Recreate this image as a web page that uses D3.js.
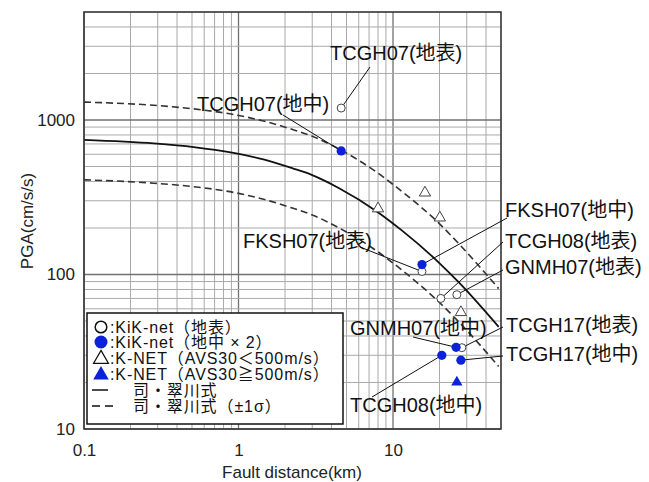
<!DOCTYPE html>
<html><head><meta charset="utf-8">
<script src="https://cdn.jsdelivr.net/npm/d3@7"></script>
<style>
html,body{margin:0;padding:0;background:#fff;}
text{font-family:"Liberation Sans",Arial,"Noto Sans CJK JP",sans-serif;}
</style></head>
<body><svg id="c" width="649" height="482"></svg>
<script>
// ---------- data ----------
const xTickValues = [0.1, 1, 10];
const xTickLabels = ["0.1", "1", "10"];
const yTickValues = [10, 100, 1000];
const yTickLabels = ["10", "100", "1000"];

// Si-Midorikawa attenuation curves
const curveDist = [0.1, 0.283, 0.513, 0.928, 1.45, 2.26, 3.0, 4.48, 7.77, 11.4, 19.8, 26.7, 48.3];
const meanPGA   = [743, 705, 668, 612, 556, 485, 440, 362, 258, 193, 119.5, 88.8, 45.8];
const upperPGA  = [1306, 1245, 1180, 1085, 985, 865, 785, 648, 462, 345, 215, 158, 81];
const lowerPGA  = [410, 390, 370, 340, 307, 268, 243, 200, 143, 107, 66.4, 49.3, 25.4];

// KiK-net surface (open circles)
const kikSurfName = ["TCGH07(地表)", "FKSH07(地表)", "TCGH08(地表)", "GNMH07(地表)", "TCGH17(地表)"];
const kikSurfDist = [4.62, 15.4, 20.4, 25.9, 27.9];
const kikSurfPGA  = [1195, 104.6, 70, 74, 33.6];
// KiK-net borehole x2 (blue dots)
const kikBoreName = ["TCGH07(地中)", "FKSH07(地中)", "GNMH07(地中)", "TCGH17(地中)", "TCGH08(地中)"];
const kikBoreDist = [4.62, 15.4, 25.6, 27.5, 20.7];
const kikBorePGA  = [631, 116, 33.8, 27.9, 30.0];
// K-NET AVS30<500 (open triangles)
const knetSoftDist = [8.0, 16.1, 20.1, 27.5];
const knetSoftPGA  = [267, 338, 233, 56.9];
// K-NET AVS30>=500 (blue triangles)
const knetHardDist = [25.9];
const knetHardPGA  = [20.1];

const legendLabels = [":KiK-net（地表）", ":KiK-net（地中 × 2）", ":K-NET（AVS30＜500m/s）", ":K-NET（AVS30≧500m/s）", "司・翠川式", "司・翠川式（±1σ）"];

// ---------- layout ----------
const L = 84, R = 501, T = 12, B = 429;
const BLUE = "#0b22d8";
const svg = d3.select("#c");

const x = d3.scaleLog().domain([0.1, 50]).range([L, R]);
const y = d3.scaleLog().domain([10, 5000]).range([B, T]);

// grid
const gx = [], gy = [];
[0.1, 1, 10].forEach(d => { for (let k = 1; k <= 9; k++) { const v = +(d * k).toPrecision(3); if (v <= 50) gx.push(v); } });
[10, 100, 1000].forEach(d => { for (let k = 1; k <= 9; k++) { const v = d * k; if (v <= 5000) gy.push(v); } });
const isDec = v => Math.abs(Math.log10(v) - Math.round(Math.log10(v))) < 1e-6;
const grid = svg.append("g");
grid.selectAll("line.vx").data(gx).join("line")
  .attr("x1", d => x(d)).attr("x2", d => x(d)).attr("y1", T).attr("y2", B)
  .attr("stroke", d => isDec(d) ? "#707070" : "#a9a9a9").attr("stroke-width", d => isDec(d) ? 1.3 : 1);
grid.selectAll("line.hy").data(gy).join("line")
  .attr("y1", d => y(d)).attr("y2", d => y(d)).attr("x1", L).attr("x2", R)
  .attr("stroke", d => isDec(d) ? "#707070" : "#a9a9a9").attr("stroke-width", d => isDec(d) ? 1.3 : 1);

// clip
svg.append("clipPath").attr("id", "clip").append("rect").attr("x", L).attr("y", T).attr("width", R - L).attr("height", B - T);

const line = d3.line().x(d => x(d[0])).y(d => y(d[1])).curve(d3.curveMonotoneX);
const cg = svg.append("g").attr("clip-path", "url(#clip)");
cg.append("path").attr("d", line(d3.zip(curveDist, upperPGA))).attr("fill", "none").attr("stroke", "#333").attr("stroke-width", 1.6).attr("stroke-dasharray", "7,4");
cg.append("path").attr("d", line(d3.zip(curveDist, lowerPGA))).attr("fill", "none").attr("stroke", "#333").attr("stroke-width", 1.6).attr("stroke-dasharray", "7,4");
cg.append("path").attr("d", line(d3.zip(curveDist, meanPGA))).attr("fill", "none").attr("stroke", "#111").attr("stroke-width", 1.8);

// frame
svg.append("rect").attr("x", L).attr("y", T).attr("width", R - L).attr("height", B - T)
  .attr("fill", "none").attr("stroke", "#333").attr("stroke-width", 1.5);

// axes
const yAxis = d3.axisLeft(y).tickValues(yTickValues).tickSize(0).tickPadding(9)
  .tickFormat((d, i) => yTickLabels[i]);
const ya = svg.append("g").attr("transform", `translate(${L},0)`).call(yAxis);
ya.select(".domain").remove();
ya.selectAll("text").attr("font-size", 17).attr("fill", "#222").attr("font-family", "Liberation Sans, Arial, sans-serif");
const xAxis = d3.axisBottom(x).tickValues(xTickValues).tickSize(0).tickPadding(15)
  .tickFormat((d, i) => xTickLabels[i]);
const xa = svg.append("g").attr("transform", `translate(0,${B})`).call(xAxis);
xa.select(".domain").remove();
xa.selectAll("text").attr("font-size", 17).attr("fill", "#222").attr("font-family", "Liberation Sans, Arial, sans-serif");

svg.append("text").attr("x", 292).attr("y", 478).attr("text-anchor", "middle").attr("font-size", 17).attr("fill", "#222").text("Fault distance(km)");
svg.append("text").attr("transform", "translate(33,221) rotate(-90)").attr("text-anchor", "middle").attr("font-size", 17).attr("fill", "#222").text("PGA(cm/s/s)");

// leader lines + labels (text position in pixels, end at data point)
const labels = [
  {t: kikSurfName[0], tx: 330, ty: 60, lx: 370, ly: 67, px: kikSurfDist[0], py: kikSurfPGA[0]},
  {t: kikBoreName[0], tx: 197, ty: 111, lx: 283, ly: 115, px: kikBoreDist[0], py: kikBorePGA[0]},
  {t: kikSurfName[1], tx: 243, ty: 248, lx: 360, ly: 247, px: kikSurfDist[1], py: kikSurfPGA[1]},
  {t: kikBoreName[1], tx: 505, ty: 217, lx: 507, ly: 218, px: kikBoreDist[1], py: kikBorePGA[1]},
  {t: kikSurfName[2], tx: 505, ty: 248, lx: 503, ly: 242, px: kikSurfDist[2], py: kikSurfPGA[2]},
  {t: kikSurfName[3], tx: 505, ty: 274, lx: 503, ly: 270, px: kikSurfDist[3], py: kikSurfPGA[3]},
  {t: kikSurfName[4], tx: 506, ty: 332, lx: 503, ly: 327, px: kikSurfDist[4], py: kikSurfPGA[4]},
  {t: kikBoreName[3], tx: 506, ty: 361, lx: 503, ly: 356, px: kikBoreDist[3], py: kikBorePGA[3]},
  {t: kikBoreName[2], tx: 350, ty: 335, lx: 413, ly: 337, px: kikBoreDist[2], py: kikBorePGA[2]},
  {t: kikBoreName[4], tx: 350, ty: 412, lx: 372, ly: 397, px: kikBoreDist[4], py: kikBorePGA[4]},
];
svg.append("g").selectAll("line").data(labels).join("line")
  .attr("x1", d => d.lx).attr("y1", d => d.ly).attr("x2", d => x(d.px)).attr("y2", d => y(d.py))
  .attr("stroke", "#111").attr("stroke-width", 1);

// markers
const tri = d3.symbol().type(d3.symbolTriangle);
svg.append("g").selectAll("path").data(d3.zip(knetSoftDist, knetSoftPGA)).join("path")
  .attr("d", tri.size(55)()).attr("transform", d => `translate(${x(d[0])},${y(d[1])})`)
  .attr("fill", "#fff").attr("stroke", "#444").attr("stroke-width", 1);
svg.append("g").selectAll("path").data(d3.zip(knetHardDist, knetHardPGA)).join("path")
  .attr("d", tri.size(55)()).attr("transform", d => `translate(${x(d[0])},${y(d[1])})`)
  .attr("fill", BLUE);
svg.append("g").selectAll("circle").data(d3.zip(kikSurfDist, kikSurfPGA)).join("circle")
  .attr("cx", d => x(d[0])).attr("cy", d => y(d[1])).attr("r", 4)
  .attr("fill", "#fff").attr("stroke", "#444").attr("stroke-width", 1);
svg.append("g").selectAll("circle").data(d3.zip(kikBoreDist, kikBorePGA)).join("circle")
  .attr("cx", d => x(d[0])).attr("cy", d => y(d[1])).attr("r", 4.6)
  .attr("fill", BLUE);

// label texts
svg.append("g").selectAll("text").data(labels).join("text")
  .attr("x", d => d.tx).attr("y", d => d.ty).attr("font-size", 20).attr("fill", "#111").text(d => d.t);

// legend
const lg = svg.append("g");
lg.append("rect").attr("x", 87).attr("y", 313).attr("width", 256).attr("height", 111)
  .attr("fill", "#fff").attr("stroke", "#111").attr("stroke-width", 1.5);
const symY = [327, 342, 358, 374, 390, 406];
const baseY = [332.5, 347.5, 363.5, 379.5, 395.5, 411.5];
lg.append("circle").attr("cx", 101).attr("cy", symY[0]).attr("r", 5.8).attr("fill", "#fff").attr("stroke", "#111").attr("stroke-width", 1.5);
lg.append("circle").attr("cx", 101).attr("cy", symY[1]).attr("r", 6.5).attr("fill", BLUE);
lg.append("path").attr("d", d3.symbol().type(d3.symbolTriangle).size(95)()).attr("transform", `translate(101,${symY[2] + 1})`).attr("fill", "#fff").attr("stroke", "#111").attr("stroke-width", 1.3);
lg.append("path").attr("d", d3.symbol().type(d3.symbolTriangle).size(105)()).attr("transform", `translate(101,${symY[3] + 1})`).attr("fill", BLUE);
lg.append("line").attr("x1", 92).attr("x2", 108).attr("y1", symY[4]).attr("y2", symY[4]).attr("stroke", "#111").attr("stroke-width", 1.5);
lg.append("line").attr("x1", 92).attr("x2", 113).attr("y1", symY[5]).attr("y2", symY[5]).attr("stroke", "#111").attr("stroke-width", 1.5).attr("stroke-dasharray", "8,5");
lg.selectAll("text").data(legendLabels).join("text")
  .attr("x", (d, i) => i < 4 ? 110 : 133).attr("y", (d, i) => baseY[i])
  .attr("font-size", 16).attr("letter-spacing", "0.9px").attr("fill", "#111").text(d => d);
</script></body></html>
